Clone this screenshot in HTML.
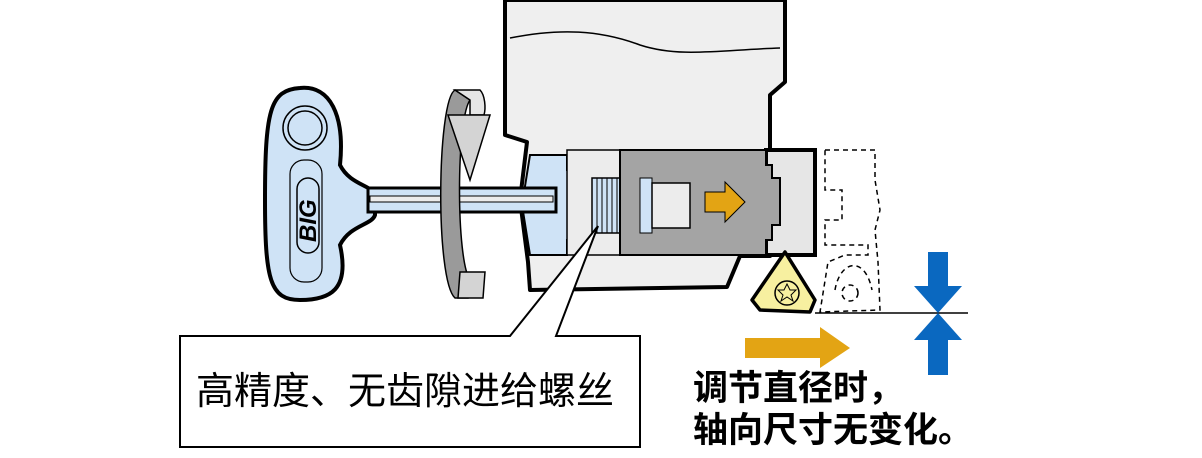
<!DOCTYPE html>
<html><head><meta charset="utf-8"><style>
html,body{margin:0;padding:0;background:#fff;}
svg{display:block}
text{font-family:"Liberation Sans","Noto Sans CJK SC",sans-serif;}
</style></head><body>
<svg width="1202" height="458" viewBox="0 0 1202 458" xmlns="http://www.w3.org/2000/svg">
<path d="M505,0 L505,135 L527,142 L520,200 L528,262 L530,290 L727,287 L740,256 L770,256 L770,150 L770,95 L785,82 L785,0 Z" fill="#efefef" stroke="#000" stroke-width="4" stroke-linejoin="round"/>
<path d="M510,38 C560,28 600,30 640,45 C680,58 720,50 780,48" fill="none" stroke="#000" stroke-width="1.5"/>
<path d="M766,150 L815,150 L815,255 L766,255 Z" fill="#e6e6e6" stroke="#000" stroke-width="4"/>
<path d="M530,155 L567,155 L567,170 L582,170 L582,240 L567,240 L567,255 L530,255 L522,205 Z" fill="#cfe3f6" stroke="#000" stroke-width="2"/>
<rect x="567" y="150" width="55" height="105" fill="#ececec" stroke="#000" stroke-width="1.5"/>
<rect x="592" y="178" width="50" height="55" fill="#cfe3f6" stroke="#000" stroke-width="1.5"/>
<g stroke="#000" stroke-width="1">
<line x1="597" y1="178" x2="597" y2="233"/><line x1="602" y1="178" x2="602" y2="233"/><line x1="607" y1="178" x2="607" y2="233"/><line x1="612" y1="178" x2="612" y2="233"/><line x1="617" y1="178" x2="617" y2="233"/><line x1="622" y1="178" x2="622" y2="233"/><line x1="627" y1="178" x2="627" y2="233"/><line x1="632" y1="178" x2="632" y2="233"/><line x1="637" y1="178" x2="637" y2="233"/>
</g>
<path d="M620,150 L766,150 L766,165 L772,165 L772,178 L780,178 L780,225 L772,225 L772,240 L766,240 L766,255 L620,255 Z" fill="#a4a4a4" stroke="#000" stroke-width="2"/>
<rect x="640" y="178" width="12" height="55" fill="#cfe3f6" stroke="#000" stroke-width="1"/>
<rect x="652" y="183" width="38" height="45" fill="#ececec" stroke="#000" stroke-width="1.5"/>
<path d="M705,192 L725,192 L725,182 L745,202 L725,222 L725,212 L705,212 Z" fill="#e3a414" stroke="#000" stroke-width="1"/>
<path d="M300,88 C330,85 345,115 340,165 C350,185 372,185 375,195 L375,215 C372,225 350,225 340,245 C350,290 330,300 300,300 C270,300 265,280 265,200 C265,110 270,90 300,88 Z" fill="#cfe3f6" stroke="#000" stroke-width="4"/>
<circle cx="305" cy="128" r="22" fill="#cfe3f6" stroke="#000" stroke-width="1.5"/>
<circle cx="305" cy="128" r="17" fill="none" stroke="#000" stroke-width="1.5"/>
<rect x="290" y="160" width="32" height="122" rx="14" fill="none" stroke="#000" stroke-width="1.2"/>
<rect x="297" y="178" width="22" height="75" rx="11" fill="none" stroke="#000" stroke-width="1.5"/>
<text x="0" y="0" transform="translate(316,242) rotate(-90)" font-size="24" font-weight="bold" font-style="italic">BIG</text>
<rect x="368" y="188" width="188" height="24" fill="#cfe3f6" stroke="#000" stroke-width="3"/>
<rect x="370" y="196" width="183" height="6" fill="#ececec" stroke="#000" stroke-width="1"/>
<path d="M455,90 C437,100 435,280 455,298 L468,298 L470,280 C456,260 456,120 470,100 Z" fill="#9a9a9a" stroke="#000" stroke-width="1.5"/>
<path d="M455,90 L480,90 C485,95 486,108 484,115 L470,115 L470,100 Z" fill="#e6e6e6" stroke="#000" stroke-width="1.5"/>
<path d="M448,115 L490,115 L470,180 Z" fill="#d4d4d4" stroke="#000" stroke-width="1.5"/>
<path d="M460,272 L485,272 L483,298 L458,298 Z" fill="#d4d4d4" stroke="#000" stroke-width="1.5"/>
<path d="M752,300 L785,252 L815,300 L810,312 L760,310 Z" fill="#f7f0a0" stroke="#000" stroke-width="3.5" stroke-linejoin="round"/>
<circle cx="787" cy="293" r="12" fill="none" stroke="#000" stroke-width="1.5"/>
<path d="M787,284 L790,290 L796,290 L791,295 L793,301 L787,297 L781,301 L783,295 L778,290 L784,290 Z" fill="none" stroke="#000" stroke-width="1"/>
<g fill="none" stroke="#000" stroke-width="1.5" stroke-dasharray="5,4">
<path d="M825,150 L875,150 L875,180 L880,210 L875,230 L878,262 L880,310 L820,312 L828,262 L845,255 L868,255 L868,245 L825,245 L825,220 L842,220 L842,190 L825,190 Z"/>
<path d="M835,290 C840,260 865,255 872,290"/>
<circle cx="850" cy="293" r="8"/>
</g>
<line x1="815" y1="313" x2="968" y2="313" stroke="#000" stroke-width="1.5"/>
<path d="M928,252 L948,252 L948,286 L962,286 L938,313 L914,286 L928,286 Z" fill="#0a68c0"/>
<path d="M938,313 L962,340 L948,340 L948,375 L928,375 L928,340 L914,340 Z" fill="#0a68c0"/>
<path d="M745,338 L820,338 L820,327 L850,348 L820,368 L820,358 L745,358 Z" fill="#e3a414"/>
<path d="M180,336 L510,336 L598,226 L556,336 L640,336 L640,447 L180,447 Z" fill="#fff" stroke="#000" stroke-width="2"/>
<text x="196" y="404" font-size="38">高精度、无齿隙进给螺丝</text>
<text x="693" y="400" font-size="35" font-weight="bold">调节直径时，</text>
<text x="693" y="442" font-size="35" font-weight="bold">轴向尺寸无变化。</text>
</svg>
</body></html>
